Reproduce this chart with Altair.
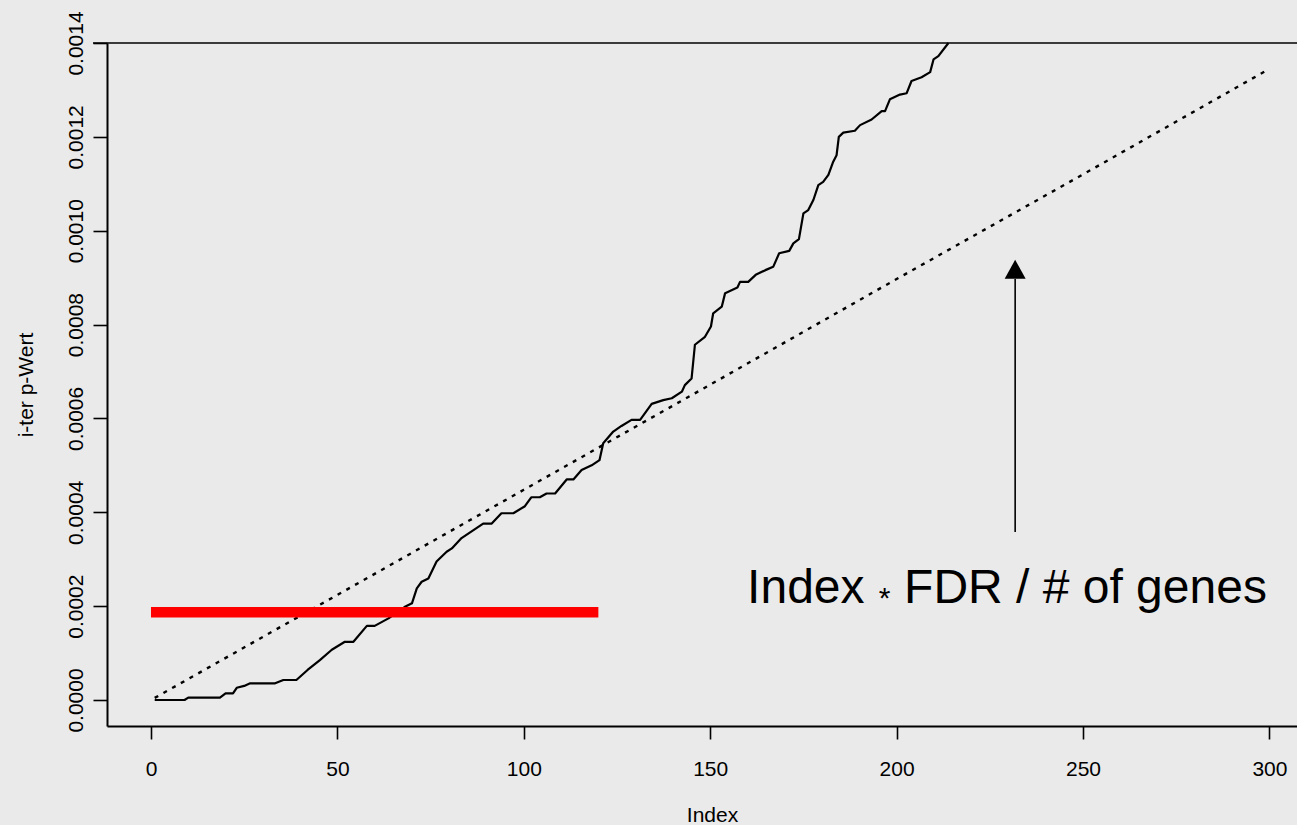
import altair as alt
import pandas as pd

# ---- data ----
p_index = [1, 9, 10, 18.5, 20, 22, 23, 25, 26.6, 33.3, 35.5, 39, 42, 45.3, 48.5, 52, 54.3,
           57.9, 60, 63.7, 68, 70, 71.3, 72.6, 74.4, 76.6, 79.3, 80.7, 83.3, 86.9, 89.1,
           91.4, 94, 97.2, 100.3, 102, 104.3, 106.1, 108.4, 111.5, 113.3, 115.5, 118.2,
           120.3, 121.3, 124, 126.2, 128.9, 131.2, 134.3, 137.4, 139.7, 142.4, 143.2, 145,
           145.9, 148.6, 150.2, 150.8, 153.1, 154, 157.3, 158, 160.2, 162.2, 164.8, 166.9,
           168.5, 171.2, 172.3, 173.8, 175, 176.3, 177.7, 179, 180.3, 181.7, 183, 183.9,
           184.5, 185.7, 188.8, 190.2, 193.3, 196, 196.9, 198.2, 200.9, 202.7, 204, 206.7,
           209, 209.9, 211.2, 213.9]
p_value = [0.0, 0.0, 0.000005, 0.000005, 0.000014, 0.000014, 0.000026, 0.00003, 0.0000355,
           0.0000355, 0.0000426, 0.0000426, 0.000064, 0.000085, 0.000107, 0.000124, 0.000124,
           0.000158, 0.000158, 0.000174, 0.000198, 0.000206, 0.000238, 0.000252, 0.000259,
           0.000295, 0.000316, 0.000323, 0.000345, 0.000364, 0.000376, 0.000376, 0.000398,
           0.000398, 0.000413, 0.000432, 0.000432, 0.00044, 0.00044, 0.00047, 0.00047,
           0.00049, 0.0005, 0.000511, 0.000547, 0.000572, 0.000584, 0.000597, 0.000597,
           0.000631, 0.000639, 0.000643, 0.000657, 0.000671, 0.000685, 0.000757, 0.000774,
           0.000796, 0.000824, 0.000838, 0.000867, 0.000879, 0.000891, 0.000891, 0.000906,
           0.000916, 0.000923, 0.000952, 0.000957, 0.000973, 0.000982, 0.001037, 0.001044,
           0.001066, 0.001097, 0.001104, 0.001119, 0.001147, 0.001161, 0.0012, 0.001209,
           0.001213, 0.001225, 0.001237, 0.001255, 0.001255, 0.00128, 0.00129, 0.001293,
           0.001319, 0.001327, 0.001338, 0.001365, 0.001372, 0.0014]

fdr_index = [1, 50, 100, 150, 200, 250, 300]
fdr_value = [0.0000045, 0.000224, 0.000448, 0.000672, 0.000897, 0.00112, 0.001345]

red_x = [0, 120]
red_y = 0.000187

arrow_x = 231.8
arrow_y = [0.000358, 0.000897]
arrow_tip = 0.000938

x_ticks = [0, 50, 100, 150, 200, 250, 300]
y_ticks = [0.0, 0.0002, 0.0004, 0.0006, 0.0008, 0.0010, 0.0012, 0.0014]

FONT = "Liberation Sans"
W, H = 1190, 683

xs = alt.Scale(domain=[-11.8, 307.4], nice=False, zero=False)
ys = alt.Scale(domain=[-0.0000554, 0.0014], nice=False, zero=False)

x_axis = alt.Axis(values=x_ticks, format="d", grid=False, domainColor="black", domainWidth=2,
                  tickColor="black", tickWidth=1.6, tickSize=13, labelFont=FONT,
                  labelFontSize=21, labelColor="black", labelBaseline="alphabetic",
                  labelPadding=36, title="Index", titleFont=FONT, titleFontSize=21,
                  titleFontWeight="normal", titleColor="black", titleBaseline="alphabetic",
                  titleAlign="center", titleX=605, titleY=95)
y_axis = alt.Axis(values=y_ticks, format=".4f", grid=False, domainColor="black", domainWidth=2,
                  tickColor="black", tickWidth=1.6, tickSize=14, labelFont=FONT,
                  labelFontSize=21, labelColor="black", labelAngle=270, labelAlign="center",
                  labelBaseline="alphabetic", labelPadding=11, title="i-ter p-Wert",
                  titleFont=FONT, titleFontSize=21, titleFontWeight="normal",
                  titleColor="black", titleAngle=270, titleAlign="center",
                  titleBaseline="alphabetic", titleX=-75, titleY=H / 2)

pv = pd.DataFrame({"i": p_index, "p": p_value})
fd = pd.DataFrame({"i": fdr_index, "p": fdr_value})

solid = alt.Chart(pv).mark_line(color="black", strokeWidth=2.2, strokeJoin="round").encode(
    x=alt.X("i:Q", scale=xs, axis=x_axis),
    y=alt.Y("p:Q", scale=ys, axis=y_axis),
)

dotted = alt.Chart(fd).mark_line(color="black", strokeWidth=2.4, strokeDash=[4, 6]).encode(
    x=alt.X("i:Q", scale=xs),
    y=alt.Y("p:Q", scale=ys),
)

red = alt.Chart(pd.DataFrame({"x": [red_x[0]], "x2": [red_x[1]], "y": [red_y]})).mark_rule(
    color="#ff0000", strokeWidth=10.5, strokeCap="butt").encode(
    x=alt.X("x:Q", scale=xs), x2="x2:Q", y=alt.Y("y:Q", scale=ys))

shaft = alt.Chart(pd.DataFrame({"x": [arrow_x], "y": [arrow_y[0]], "y2": [arrow_y[1]]})).mark_rule(
    color="black", strokeWidth=1.6).encode(
    x=alt.X("x:Q", scale=xs), y=alt.Y("y:Q", scale=ys), y2="y2:Q")

head = alt.Chart(pd.DataFrame({"x": [arrow_x], "y": [arrow_tip]})).mark_point(
    shape="M0,0 L1,1.81 L-1,1.81 Z", size=441, filled=True, color="black", opacity=1,
    strokeWidth=0).encode(
    x=alt.X("x:Q", scale=xs), y=alt.Y("y:Q", scale=ys))

labels = pd.DataFrame({
    "x": [159.9, 196.8, 202.0],
    "y": [0.000206, 0.000196, 0.000206],
    "t": ["Index", "*", "FDR / # of genes"],
})
txt_main = alt.Chart(labels.iloc[[0, 2]]).mark_text(
    font=FONT, fontSize=48, align="left", baseline="alphabetic", color="black").encode(
    x=alt.X("x:Q", scale=xs), y=alt.Y("y:Q", scale=ys), text="t:N")
txt_star = alt.Chart(labels.iloc[[1]]).mark_text(
    font=FONT, fontSize=30, align="center", baseline="alphabetic", color="black").encode(
    x=alt.X("x:Q", scale=xs), y=alt.Y("y:Q", scale=ys), text="t:N")

top_line = alt.Chart(pd.DataFrame({"a": [0]})).mark_rule(color="black", strokeWidth=1.7).encode(
    x=alt.value(-14), x2=alt.value(W), y=alt.value(0))

chart = alt.layer(dotted, solid, red, shaft, head, txt_main, txt_star, top_line).properties(
    width=W, height=H,
    padding={"left": 107, "top": 43, "right": 0, "bottom": 99},
    autosize=alt.AutoSizeParams(type="none"),
    background="#eaeaea",
).configure_view(stroke=None)

chart.save("out.html", embed_options={"renderer": "svg", "actions": False})
